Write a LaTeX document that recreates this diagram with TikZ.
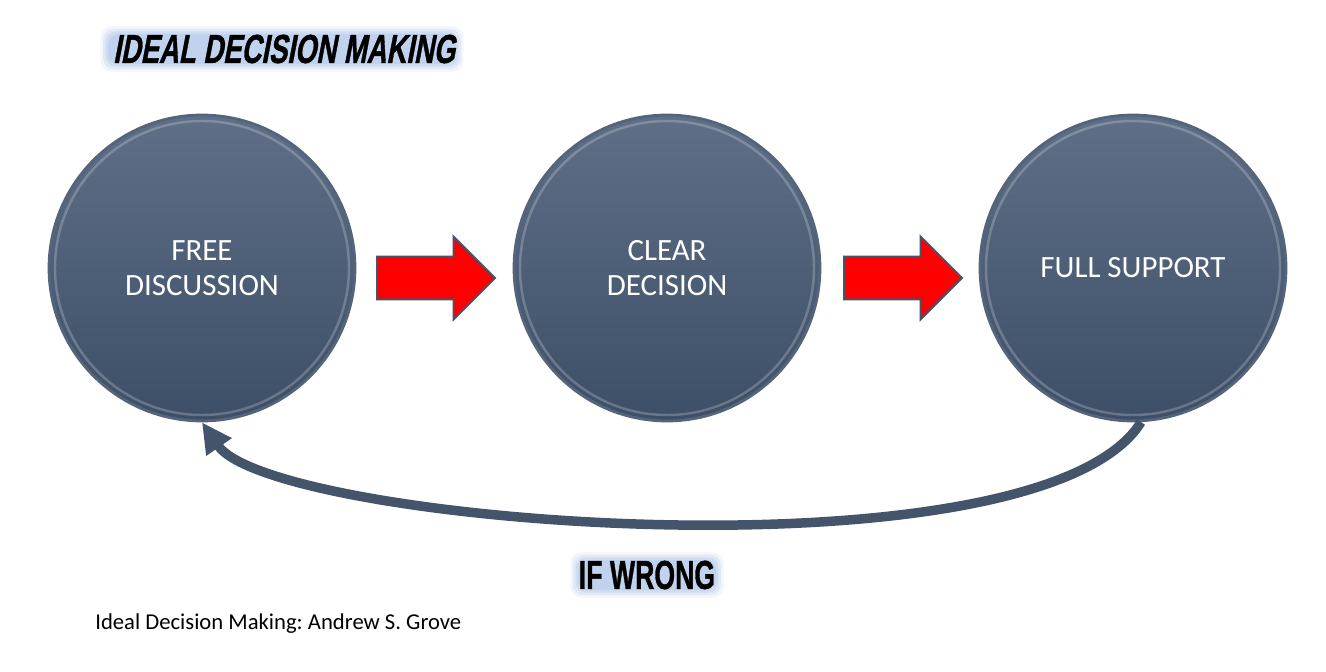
\documentclass[tikz,border=0pt]{standalone}
\usepackage{graphicx}
\usepackage{fontspec}
\setmainfont{Carlito}
\newfontfamily\gordofont{Liberation Sans}[UprightFont={* Bold},FakeBold=1.2]
\newfontfamily\inclinfont{Liberation Sans}[UprightFont={* Bold},FakeBold=1.2,FakeSlant=0.28]
\usetikzlibrary{arrows.meta,shapes.arrows,backgrounds}
\definecolor{pizarraArriba}{HTML}{5E6F87}
\definecolor{pizarraAbajo}{HTML}{3D4E67}
\definecolor{pizarraBorde}{HTML}{53647B}
\definecolor{pizarraLinea}{HTML}{44546A}
\definecolor{halo}{HTML}{A9C2E8}
\newcommand{\titulotexto}{\scalebox{0.68}[1]{IDEAL DECISION MAKING}}
\newcommand{\siwrongtexto}{\scalebox{0.66}[1]{IF WRONG}}

\begin{document}
\begin{tikzpicture}[x=0.02cm,y=-0.02cm,>=Stealth,
  paso/.style={circle,minimum size=6.12cm,inner sep=0pt,
    top color=pizarraArriba,bottom color=pizarraAbajo,
    draw=pizarraBorde,line width=1.6pt,text=white,align=center,
    font=\fontsize{17.6}{20}\selectfont},
  flecharoja/.style={single arrow,fill=red,draw=pizarraLinea,line width=1.1pt,
    minimum height=2.36cm,inner xsep=0pt,inner ysep=0.41cm,anchor=tail,
    single arrow head extend=0.4cm,single arrow tip angle=90},
  tam/.style={inner sep=0pt,font=#1\fontsize{23}{23}\selectfont},
  vuelta/.style={pizarraLinea,line width=0.19cm,-{Triangle[width=0.58cm,length=0.6cm]}}]
  \useasboundingbox (0,0) rectangle (1326,672);
  \node[paso] (c1) at (202,268) {FREE\\DISCUSSION};
  \node[paso] (c2) at (667,268) {CLEAR\\DECISION};
  \node[paso] (c3) at (1133,268) {FULL SUPPORT};
  \foreach \n in {c1,c2,c3}
    \draw[white,opacity=.22,line width=1.4pt] (\n.center) circle[radius=147];
  \node[flecharoja] (f1) at (376,278) {};
  \node[flecharoja] (f2) at (843,278) {};
  \draw[vuelta] (c3.-87) .. controls (1039,585) and (273,525) .. (c1.south);
  \node[tam=\inclinfont] (titulo) at (284,49) {\titulotexto};
  \node[tam=\gordofont] (siwrong) at (647,575) {\siwrongtexto};
  \node[anchor=base west,inner sep=0pt,font=\frenchspacing\fontsize{12.9}{15}\selectfont] (fuente) at (95,629)
    {Ideal Decision Making: Andrew S. Grove};
  \begin{scope}[on background layer]
    \fill[white] (0,0) rectangle (1326,672);
    \foreach \d/\o in {8/.15,5.5/.22,3/.3,0.5/.4} {
      \fill[halo,opacity=\o,rounded corners=6pt]
        ([shift={(-\d-4,\d)}]titulo.south west) rectangle ([shift={(\d,-\d)}]titulo.north east);
      \fill[halo,opacity=\o,rounded corners=6pt]
        ([shift={(-\d,\d)}]siwrong.south west) rectangle ([shift={(\d,-\d)}]siwrong.north east);
    }
  \end{scope}
\end{tikzpicture}
\end{document}
